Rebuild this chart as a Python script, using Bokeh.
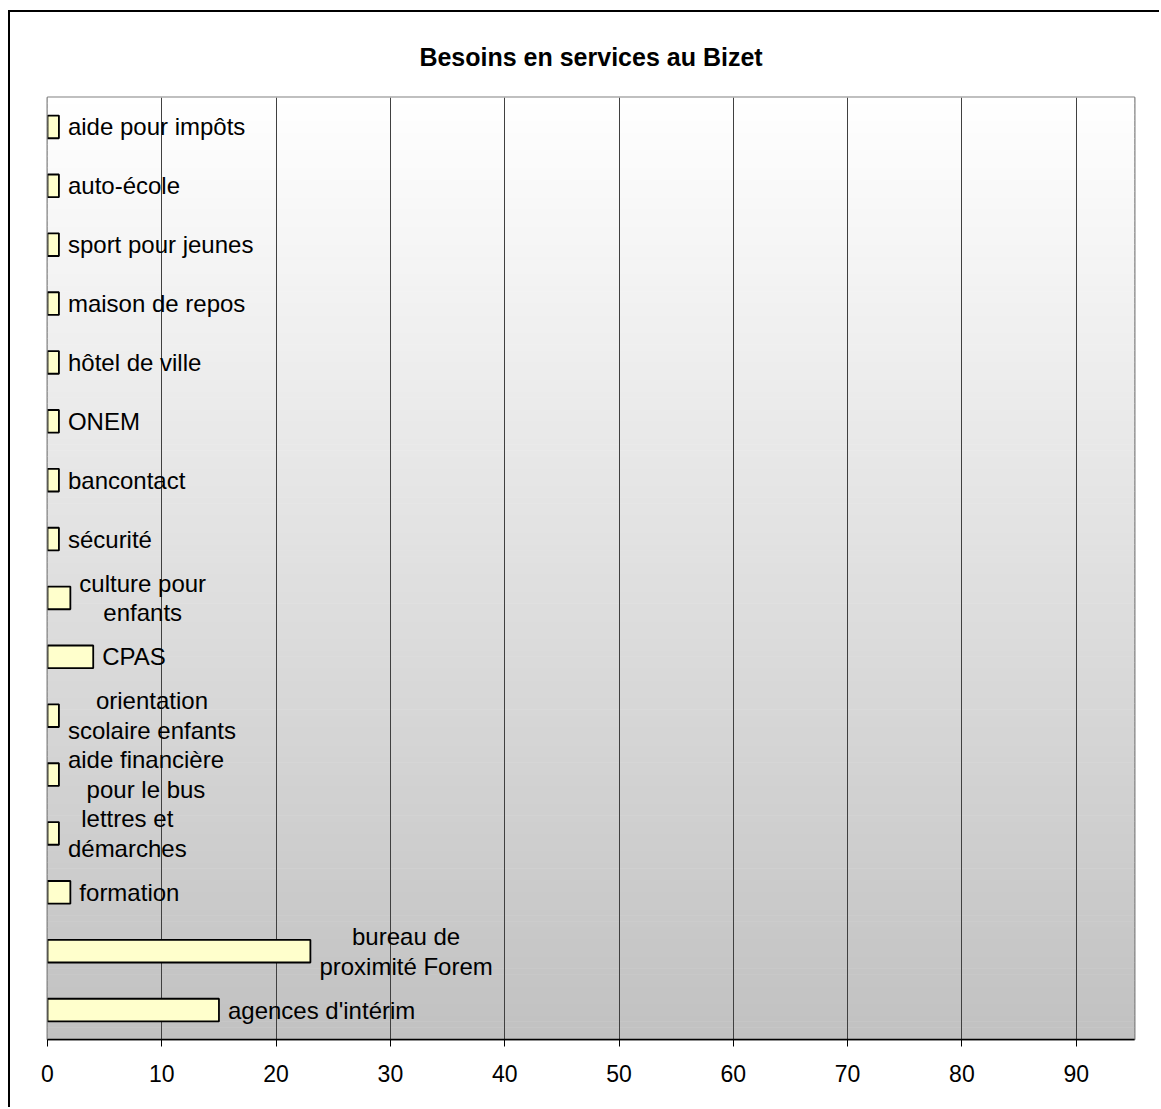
import numpy as np
from bokeh.plotting import figure
from bokeh.models import Range1d, FixedTicker, ColumnDataSource
from bokeh.core.properties import value
from bokeh.embed import file_html
from bokeh.resources import INLINE

# ---- data (top to bottom as shown) ----
categories = [
    "aide pour impôts", "auto-école", "sport pour jeunes", "maison de repos",
    "hôtel de ville", "ONEM", "bancontact", "sécurité",
    "culture pour enfants", "CPAS", "orientation scolaire enfants",
    "aide financière pour le bus", "lettres et démarches", "formation",
    "bureau de proximité Forem", "agences d'intérim",
]
label_texts = [
    "aide pour impôts", "auto-école", "sport pour jeunes", "maison de repos",
    "hôtel de ville", "ONEM", "bancontact", "sécurité",
    "culture pour\nenfants", "CPAS", "orientation\nscolaire enfants",
    "aide financière\npour le bus", "lettres et\ndémarches", "formation",
    "bureau de\nproximité Forem", "agences d'intérim",
]
values = [1, 1, 1, 1, 1, 1, 1, 1, 2, 4, 1, 1, 1, 2, 23, 15]
x_ticks = [0, 10, 20, 30, 40, 50, 60, 70, 80, 90]
x_max = 95.1
title_text = "Besoins en services au Bizet"

FONT = "Liberation Sans"
n = len(categories)
ypos = [n - 1 - i for i in range(n)]  # category index, first at top

W, H = 1151, 1097
p = figure(
    width=W, height=H,
    y_range=Range1d(-0.5, n - 0.5),
    x_range=Range1d(0, x_max),
    output_backend="svg", toolbar_location=None,
    min_border_left=37, min_border_right=27, min_border_top=85, min_border_bottom=70,
)
p.styles = {"border-top": "2px solid black", "border-left": "2px solid black",
            "margin-top": "10px", "margin-left": "8px"}

# background gradient (white at top -> gray at bottom)
N = 160
edges = np.linspace(-0.5, n - 0.5, N + 1)
cols = []
for i in range(N):
    t = ((edges[i] + edges[i + 1]) / 2 + 0.5) / n  # 0 bottom, 1 top
    g = int(round(193 + (255 - 193) * t))
    cols.append("#%02x%02x%02x" % (g, g, g))
p.quad(left=0, right=x_max, bottom=edges[:-1], top=edges[1:] + 0.01,
       fill_color=cols, line_color=None, level="image")

src = ColumnDataSource(dict(cat=categories, y=ypos, val=values, lab=label_texts))
p.hbar(y="y", right="val", left=0, height=0.385, source=src,
       fill_color="#FFFFCC", line_color="black", line_width=1.8)

p.text(x="val", y="y", text="lab", source=src, x_offset=9,
       anchor="center_left", text_align="center", text_baseline="middle",
       text_font=value(FONT), text_font_size="24px", text_color="black",
       text_line_height=1.1)

# title
p.title.text = title_text
p.title.align = "center"
p.title.text_font = FONT
p.title.text_font_size = "25px"
p.title.text_font_style = "bold"
p.title.text_color = "black"
p.title.standoff = 54

# axes
p.yaxis.visible = False
xa = p.xaxis[0]
xa.ticker = FixedTicker(ticks=x_ticks)
xa.axis_line_color = "black"
xa.axis_line_width = 1.5
xa.major_tick_line_color = "black"
xa.major_tick_out = 7
xa.major_tick_in = 0
xa.minor_tick_line_color = None
xa.major_label_text_font = FONT
xa.major_label_text_font_size = "23px"
xa.major_label_text_color = "black"
xa.major_label_standoff = 18

p.xgrid.ticker = FixedTicker(ticks=x_ticks)
p.xgrid.grid_line_color = "#404040"
p.xgrid.grid_line_width = 1
p.ygrid.visible = False

p.outline_line_color = "#808080"
p.outline_line_width = 2
p.background_fill_color = "white"
p.border_fill_color = "white"

open("out.html", "w").write(file_html(p, INLINE))
